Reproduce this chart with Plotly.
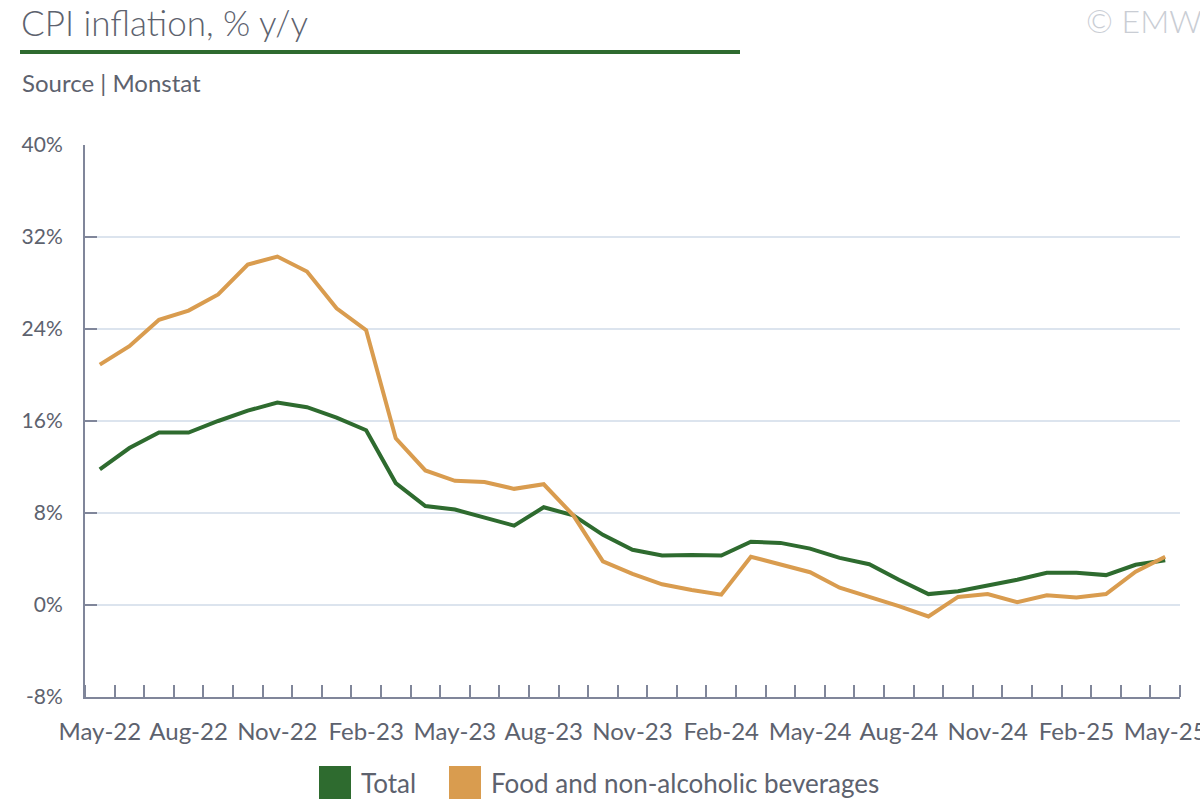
import plotly.graph_objects as go

months = ["May-22", "Jun-22", "Jul-22", "Aug-22", "Sep-22", "Oct-22", "Nov-22", "Dec-22",
          "Jan-23", "Feb-23", "Mar-23", "Apr-23", "May-23", "Jun-23", "Jul-23", "Aug-23",
          "Sep-23", "Oct-23", "Nov-23", "Dec-23", "Jan-24", "Feb-24", "Mar-24", "Apr-24",
          "May-24", "Jun-24", "Jul-24", "Aug-24", "Sep-24", "Oct-24", "Nov-24", "Dec-24",
          "Jan-25", "Feb-25", "Mar-25", "Apr-25", "May-25"]

total = [11.8, 13.65, 15.0, 15.0, 16.0, 16.9, 17.6, 17.2, 16.3, 15.2,
         10.6, 8.6, 8.3, 7.6, 6.9, 8.5, 7.8, 6.1, 4.8, 4.3,
         4.35, 4.3, 5.5, 5.4, 4.9, 4.1, 3.55, 2.2, 0.95, 1.2,
         1.7, 2.2, 2.8, 2.8, 2.6, 3.5, 3.9]

food = [20.9, 22.5, 24.8, 25.6, 27.0, 29.6, 30.3, 29.0, 25.8, 23.9,
        14.5, 11.7, 10.8, 10.7, 10.1, 10.5, 7.8, 3.8, 2.7, 1.8,
        1.3, 0.9, 4.2, 3.5, 2.85, 1.5, 0.7, -0.1, -1.0, 0.7,
        0.95, 0.25, 0.85, 0.65, 0.95, 2.9, 4.2]

y_ticks = [-8, 0, 8, 16, 24, 32, 40]
y_labels = [f"{v}%" for v in y_ticks]

series_names = ["Total", "Food and non-alcoholic beverages"]

GREEN = "#2e6b2f"
ORANGE = "#d99c4f"
TEXT = "#5d626e"
AXIS = "#80869a"
GRID = "#dce4ee"
FONT = "Lato"

x = list(range(len(months)))
label_idx = list(range(0, len(months), 3))
boundaries = [i + 0.5 for i in range(-1, len(months))]

fig = go.Figure()
fig.add_trace(go.Scatter(x=x, y=total, mode="lines", name=series_names[0],
                         line=dict(color=GREEN, width=4), showlegend=False))
fig.add_trace(go.Scatter(x=x, y=food, mode="lines", name=series_names[1],
                         line=dict(color=ORANGE, width=4), showlegend=False))

L, R, T, B = 85, 20, 145, 103
W, H = 1200, 800
pw = W - L - R
ph = H - T - B


def px(v):
    return (v - L) / pw


def py(v):
    return (H - B - v) / ph


shapes = [dict(type="line", xref="paper", yref="paper",
               x0=px(20), x1=px(740), y0=py(52), y1=py(52),
               line=dict(color=GREEN, width=4))]
annotations = [
    dict(text="CPI inflation, % y/y", xref="paper", yref="paper",
         x=px(19), y=py(22), xanchor="left", yanchor="middle", showarrow=False,
         font=dict(size=35, color=TEXT, family=FONT, weight=300)),
    dict(text="Source | Monstat", xref="paper", yref="paper",
         x=px(20), y=py(82), xanchor="left", yanchor="middle", showarrow=False,
         font=dict(size=24, color=TEXT, family=FONT)),
    dict(text="© EMW", xref="paper", yref="paper",
         x=px(1084), y=py(20), xanchor="left", yanchor="middle", showarrow=False,
         font=dict(size=32, color="#c9cdd4", family=FONT, weight=300)),
]

# legend (square swatches + labels)
legend_items = [(series_names[0], GREEN, 319), (series_names[1], ORANGE, 449)]
for name, color, x0 in legend_items:
    shapes.append(dict(type="rect", xref="paper", yref="paper",
                       x0=px(x0), x1=px(x0 + 32), y0=py(799), y1=py(766),
                       fillcolor=color, line=dict(width=0)))
    annotations.append(dict(text=name, xref="paper", yref="paper",
                            x=px(x0 + 40), y=py(783), xanchor="left", yanchor="middle",
                            showarrow=False, font=dict(size=26, color=TEXT, family=FONT)))

fig.update_layout(
    width=W, height=H,
    margin=dict(l=L, r=R, t=T, b=B, autoexpand=False),
    paper_bgcolor="white", plot_bgcolor="white",
    font=dict(family=FONT, color=TEXT),
    showlegend=False,
    xaxis=dict(range=[-0.5, len(months) - 0.5], tickmode="array",
               tickvals=label_idx, ticktext=[months[i] for i in label_idx],
               ticks="", showgrid=False, zeroline=False, automargin=False,
               showline=True, linecolor=AXIS, linewidth=2,
               tickfont=dict(size=24, color=TEXT), ticklabelstandoff=12,
               ticklabeloverflow="allow",
               minor=dict(tickmode="array", tickvals=boundaries, ticks="inside",
                          ticklen=12, tickwidth=2, tickcolor=AXIS, showgrid=False)),
    yaxis=dict(range=[-8, 40], tickmode="array", tickvals=y_ticks, ticktext=y_labels,
               ticks="inside", ticklen=12, tickwidth=2, tickcolor=AXIS, automargin=False,
               showline=True, linecolor=AXIS, linewidth=2,
               showgrid=True, gridcolor=GRID, gridwidth=2, zeroline=False,
               tickfont=dict(size=21, color=TEXT), ticklabelstandoff=16),
    shapes=shapes,
    annotations=annotations,
)

fig.write_html("out.html", config={"displayModeBar": False},
               post_script="document.body.style.margin='0px';document.body.style.overflow='hidden';")
